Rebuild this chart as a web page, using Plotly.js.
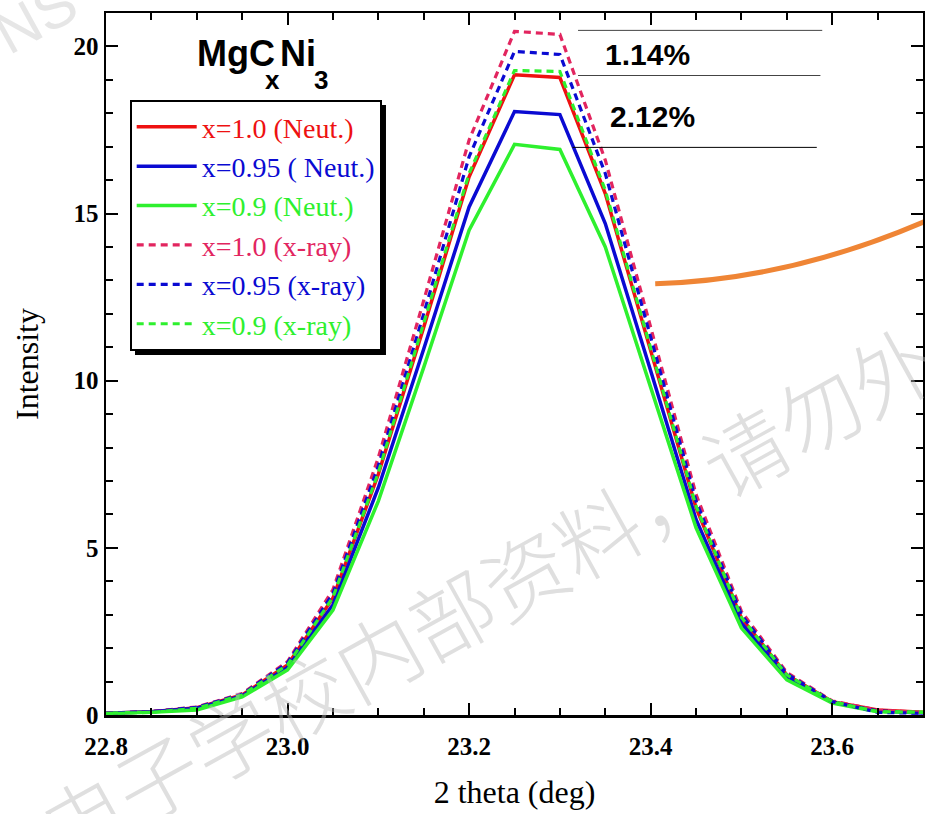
<!DOCTYPE html>
<html>
<head>
<meta charset="utf-8">
<script src="https://cdn.plot.ly/plotly-3.0.1.min.js"></script>
<style>html,body{margin:0;padding:0;background:#fff;}#chart{width:925px;height:814px;}</style>
</head>
<body>
<div id="chart"></div>
<script>
// 2 theta values (deg)
const twoTheta = [22.8, 22.85, 22.9, 22.95, 23.0, 23.05, 23.1, 23.15, 23.2, 23.25, 23.3, 23.35, 23.4, 23.45, 23.5, 23.55, 23.6, 23.65, 23.7];

// Neutron profiles
const neut100 = [0.05, 0.10, 0.22, 0.60, 1.50, 3.50, 7.20, 11.6, 16.1, 19.15, 19.07, 15.6, 10.9, 6.20, 2.90, 1.20, 0.40, 0.15, 0.08];
const neut095 = [0.05, 0.10, 0.20, 0.57, 1.42, 3.30, 6.80, 10.95, 15.2, 18.05, 17.96, 14.7, 10.3, 5.85, 2.75, 1.12, 0.38, 0.12, 0.06];
const neut090 = [0.05, 0.08, 0.15, 0.54, 1.35, 3.14, 6.40, 10.4, 14.5, 17.07, 16.92, 14.0, 9.80, 5.60, 2.60, 1.05, 0.36, 0.10, 0.08];

// X-ray profiles
const xray100 = [0.05, 0.10, 0.24, 0.64, 1.60, 3.75, 7.70, 12.4, 17.2, 20.45, 20.36, 16.6, 11.6, 6.60, 3.10, 1.27, 0.42, 0.15, 0.08];
const xray095 = [0.05, 0.10, 0.23, 0.62, 1.56, 3.63, 7.45, 12.0, 16.7, 19.85, 19.76, 16.2, 11.3, 6.40, 3.00, 1.23, 0.40, 0.08, 0.05];
const xray090 = [0.04, 0.08, 0.20, 0.60, 1.50, 3.52, 7.25, 11.7, 16.2, 19.28, 19.25, 15.7, 11.0, 6.25, 2.92, 1.20, 0.40, 0.10, 0.08];

const seriesNames = ['x=1.0 (Neut.)', 'x=0.95 ( Neut.)', 'x=0.9 (Neut.)', 'x=1.0 (x-ray)', 'x=0.95 (x-ray)', 'x=0.9 (x-ray)'];
const seriesData = [neut100, neut095, neut090, xray100, xray095, xray090];
const colors = ['#ee1111', '#0a0ad2', '#2ef02e', '#e2255f', '#0a0ad2', '#2ef02e'];
const dashes = ['solid', 'solid', 'solid', '7px,5px', '7px,5px', '7px,5px'];
const widths = [3.5, 3.5, 3.5, 3.2, 3.2, 3.2];

const annoTexts = ['1.14%', '2.12%'];
const titleParts = ['MgC', 'x', 'Ni', '3'];

const traces = seriesData.map((ys, i) => ({
  type: 'scatter', mode: 'lines', x: twoTheta, y: ys,
  name: '<span style="color:' + colors[i] + '">' + seriesNames[i] + '</span>',
  line: {color: colors[i], width: widths[i], dash: dashes[i]}
}));

const serif = 'Liberation Serif, Times New Roman, serif';
const narrow = 'Liberation Sans Narrow, Arial Narrow, Liberation Sans, Arial, sans-serif';
const titleFont = (s) => ({family: narrow, size: s, weight: 'bold', color: '#000'});

const layout = {
  width: 925, height: 814,
  margin: {l: 106, r: 2, t: 13, b: 99},
  paper_bgcolor: '#ffffff', plot_bgcolor: '#ffffff',
  showlegend: true,
  legend: {
    x: 0.029, y: 0.876, xanchor: 'left', yanchor: 'top',
    bgcolor: '#ffffff', bordercolor: '#000000', borderwidth: 2,
    font: {family: serif, size: 28, color: '#000'},
    itemwidth: 60, tracegroupgap: 0
  },
  xaxis: {
    range: [22.8, 23.7], dtick: 0.2, tick0: 22.8, tickformat: '.1f',
    ticks: 'inside', ticklen: 12, tickwidth: 2, tickcolor: '#000',
    minor: {dtick: 0.05, ticks: 'inside', ticklen: 7, tickwidth: 2, tickcolor: '#000'},
    showline: true, linewidth: 2.5, linecolor: '#000', mirror: 'allticks',
    showgrid: false, zeroline: false,
    tickfont: {family: serif, size: 25, weight: 'bold', color: '#000'},
    ticklabelstandoff: 7,
    title: {text: '2 theta (deg)', font: {family: serif, size: 32, color: '#000'}, standoff: 22}
  },
  yaxis: {
    range: [0, 21], dtick: 5, tick0: 0,
    ticks: 'inside', ticklen: 12, tickwidth: 2, tickcolor: '#000',
    minor: {dtick: 1, ticks: 'inside', ticklen: 7, tickwidth: 2, tickcolor: '#000'},
    showline: true, linewidth: 2.5, linecolor: '#000', mirror: 'allticks',
    showgrid: false, zeroline: false,
    tickfont: {family: serif, size: 25, weight: 'bold', color: '#000'},
    title: {text: 'Intensity', font: {family: serif, size: 32, color: '#000'}, standoff: 26}
  },
  shapes: [
    {type: 'line', xref: 'x', yref: 'y', x0: 23.32, x1: 23.589, y0: 20.48, y1: 20.48, line: {color: '#444', width: 1}},
    {type: 'line', xref: 'x', yref: 'y', x0: 23.32, x1: 23.587, y0: 19.13, y1: 19.13, line: {color: '#444', width: 1}},
    {type: 'line', xref: 'x', yref: 'y', x0: 23.314, x1: 23.583, y0: 16.98, y1: 16.98, line: {color: '#000', width: 1}},
    {type: 'path', xref: 'x', yref: 'y', path: 'M 23.405,12.9 Q 23.554,13.02 23.705,14.80', line: {color: '#ef8535', width: 5}},
    {type: 'rect', xref: 'paper', yref: 'paper', x0: 0.0355, x1: 0.3427, y0: 0.5128, y1: 0.869, fillcolor: '#000', line: {width: 0}, layer: 'above'}
  ],
  annotations: [
    {text: titleParts[0], xref: 'paper', yref: 'paper', x: 0.109, y: 0.943, xanchor: 'left', yanchor: 'middle', showarrow: false, font: titleFont(36)},
    {text: titleParts[1], xref: 'paper', yref: 'paper', x: 0.1920, y: 0.9046, xanchor: 'left', yanchor: 'middle', showarrow: false, font: titleFont(26)},
    {text: titleParts[2], xref: 'paper', yref: 'paper', x: 0.2105, y: 0.943, xanchor: 'left', yanchor: 'middle', showarrow: false, font: titleFont(36)},
    {text: titleParts[3], xref: 'paper', yref: 'paper', x: 0.2522, y: 0.9046, xanchor: 'left', yanchor: 'middle', showarrow: false, font: titleFont(26)},
    {text: annoTexts[0], xref: 'x', yref: 'y', x: 23.397, y: 19.76, xanchor: 'center', yanchor: 'middle', showarrow: false, font: titleFont(30)},
    {text: annoTexts[1], xref: 'x', yref: 'y', x: 23.402, y: 17.9, xanchor: 'center', yanchor: 'middle', showarrow: false, font: titleFont(30)},
    {text: '电子学校内部资料，请勿外传', xref: 'paper', yref: 'paper', x: 0.51, y: 0.205, xanchor: 'center', yanchor: 'middle',
     showarrow: false, textangle: -29,
     font: {family: 'Noto Sans CJK SC', size: 84, weight: 300, color: 'rgba(185,185,185,0.45)'}},
    {text: 'NS', xref: 'paper', yref: 'paper', x: -0.0857, y: 0.993, xanchor: 'center', yanchor: 'middle', showarrow: false, textangle: -29,
     font: {family: 'Liberation Sans', size: 60, color: 'rgba(200,200,200,0.45)'}}
  ]
};

Plotly.newPlot('chart', traces, layout, {displayModeBar: false, staticPlot: true});
</script>
</body>
</html>
